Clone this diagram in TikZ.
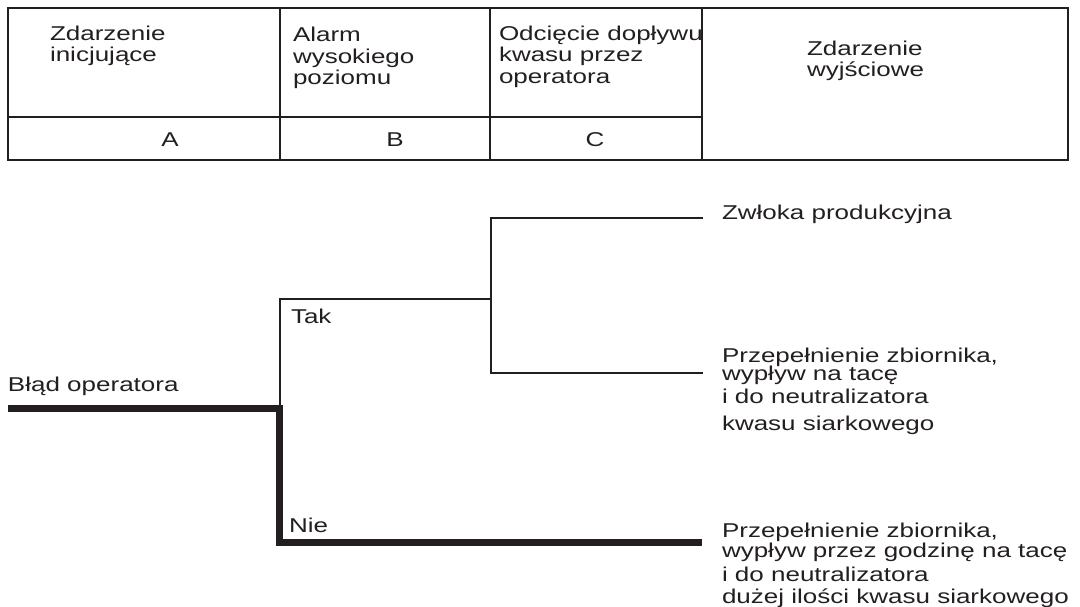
\documentclass[tikz,border=0pt]{standalone}
\usepackage{fontspec}
\setmainfont{Liberation Sans}[FakeStretch=1.3]
\definecolor{ink}{RGB}{35,31,32}
\begin{document}
\begin{tikzpicture}[x=1pt,y=-1pt,
  every node/.style={inner sep=0pt,outer sep=0pt,text=ink},
  txt/.style={anchor=base west,font=\fontsize{20}{21.5}\selectfont},
  ctxt/.style={anchor=base,font=\fontsize{20}{21.5}\selectfont},
  frame/.style={draw=ink,line width=2pt},
  thin/.style={draw=ink,line width=2pt},
  thick/.style={draw=ink,line width=7pt,line join=miter}]
\useasboundingbox (0,0) rectangle (1080,607);
% table
\draw[frame] (8,8) rectangle (1068,160);
\draw[frame] (280,8) -- (280,160);
\draw[frame] (490,8) -- (490,160);
\draw[frame] (702,8) -- (702,160);
\draw[frame] (8,117) -- (702,117);
% header texts
\node[txt] (za1) at (50,41) {Zdarzenie};
\node[txt] (za2) at (50,62) {inicjujące};
\node[txt] (al1) at (293,42) {Alarm};
\node[txt] (al2) at (293,63.5) {wysokiego};
\node[txt] (al3) at (293,85) {poziomu};
\node[txt] (od1) at (499,40.5) {Odcięcie dopływu};
\node[txt] (od2) at (499,62) {kwasu przez};
\node[txt] (od3) at (499,83.5) {operatora};
\node[txt] (zw1) at (807,56) {Zdarzenie};
\node[txt] (zw2) at (807,77) {wyjściowe};
\node[ctxt] (colA) at (170,147) {A};
\node[ctxt] (colB) at (395,147) {B};
\node[ctxt] (colC) at (595,147) {C};
% tree coordinates
\coordinate (s0) at (8,408.5);
\coordinate (j1) at (279.5,408.5);
\coordinate (j1b) at (279.5,542.5);
\coordinate (e3) at (702,542.5);
\coordinate (j1t) at (280,407);
\coordinate (t1) at (280,299);
\coordinate (j2) at (490.5,299);
\coordinate (j2t) at (490.5,218.3);
\coordinate (j2b) at (490.5,372.7);
\coordinate (e1) at (703,218.3);
\coordinate (e2) at (703,372.7);
% tree lines
\draw[thin] (j1t) -- (t1) -- (j2);
\draw[thin] (e1) -- (j2t) -- (j2b) -- (e2);
\draw[thick] (s0) -- (j1) -- (j1b) -- (e3);
% tree texts
\node[txt] (blad) at (8,391) {Błąd operatora};
\node[txt] (tak) at (291,323) {Tak};
\node[txt] (nie) at (289,532) {Nie};
\node[txt] (o1) at (722,219) {Zwłoka produkcyjna};
\node[txt] (o21) at (722,362) {Przepełnienie zbiornika,};
\node[txt] (o22) at (722,380) {wypływ na tacę};
\node[txt] (o23) at (722,403) {i do neutralizatora};
\node[txt] (o24) at (722,430) {kwasu siarkowego};
\node[txt] (o31) at (722,537) {Przepełnienie zbiornika,};
\node[txt] (o32) at (722,557) {wypływ przez godzinę na tacę};
\node[txt] (o33) at (722,581) {i do neutralizatora};
\node[txt] (o34) at (722,603) {dużej ilości kwasu siarkowego};
\end{tikzpicture}
\end{document}
